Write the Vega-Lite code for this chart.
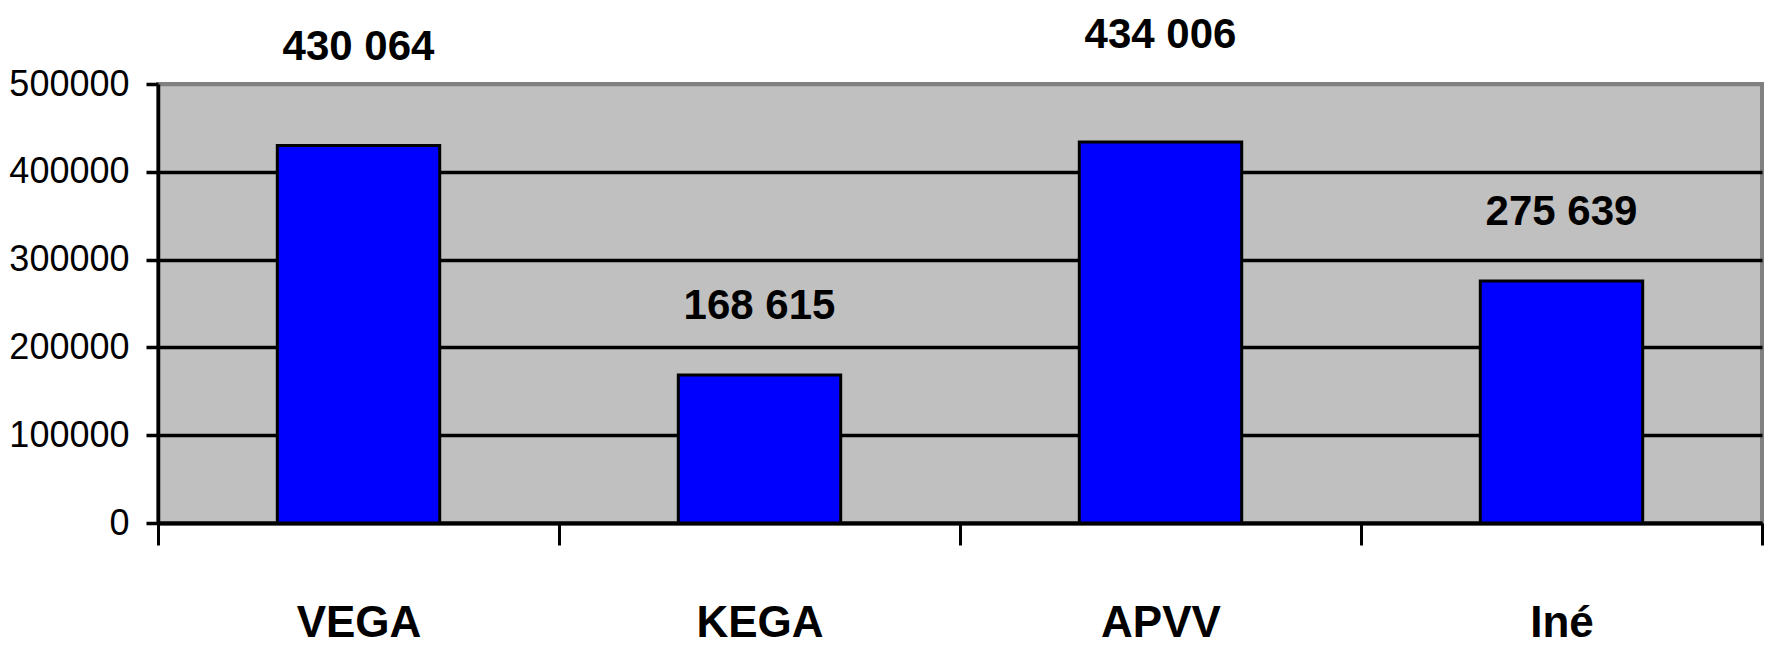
{
  "$schema": "https://vega.github.io/schema/vega-lite/v6.json",
  "autosize": "none",
  "width": 1604,
  "height": 439,
  "padding": {"left": 158, "top": 84, "right": 7, "bottom": 126},
  "background": "white",
  "config": {
    "locale": {"number": {"decimal": ",", "thousands": " ", "grouping": [3], "currency": ["", " €"]}},
    "view": {"fill": "#C0C0C0", "stroke": "#808080", "strokeWidth": 4},
    "font": "Liberation Sans"
  },
  "data": {
    "values": [
      {"category": "VEGA", "amount": 430064},
      {"category": "KEGA", "amount": 168615},
      {"category": "APVV", "amount": 434006},
      {"category": "Iné", "amount": 275639}
    ]
  },
  "encoding": {
    "x": {
      "field": "category",
      "type": "nominal",
      "sort": null,
      "scale": {"paddingInner": 0, "paddingOuter": 0},
      "axis": {
        "title": null,
        "labelAngle": 0,
        "labelFont": "Liberation Sans",
        "labelFontSize": 44,
        "labelFontWeight": "bold",
        "labelColor": "black",
        "labelBaseline": "alphabetic",
        "labelPadding": 91,
        "tickBand": "extent",
        "tickSize": 22,
        "tickWidth": 3,
        "tickColor": "black",
        "domainColor": "black",
        "domainWidth": 4,
        "grid": false
      }
    },
    "y": {
      "field": "amount",
      "type": "quantitative",
      "scale": {"domain": [0, 500000], "nice": false},
      "axis": {
        "title": null,
        "values": [0, 100000, 200000, 300000, 400000, 500000],
        "format": "d",
        "labelFont": "Liberation Sans",
        "labelFontSize": 36,
        "labelColor": "black",
        "labelPadding": 17,
        "tickSize": 12,
        "tickWidth": 3.5,
        "tickColor": "black",
        "domainColor": "black",
        "domainWidth": 3.5,
        "grid": true,
        "gridWidth": 3.5,
        "gridColor": {"condition": {"test": "datum.value >= 500000", "value": "#808080"}, "value": "black"},
        "gridOpacity": 1
      }
    }
  },
  "layer": [
    {
      "mark": {"type": "bar", "color": "#0000FF", "stroke": "black", "strokeWidth": 3, "width": {"band": 0.405}}
    },
    {
      "transform": [{"filter": "datum.category == 'KEGA' || datum.category == 'Iné'"}],
      "mark": {"type": "text", "baseline": "alphabetic", "dy": -56, "fontSize": 42, "fontWeight": "bold", "color": "black"},
      "encoding": {"text": {"field": "amount", "type": "quantitative", "format": ",d"}}
    },
    {
      "transform": [{"filter": "datum.category == 'VEGA'"}],
      "mark": {"type": "text", "baseline": "alphabetic", "dy": -85, "fontSize": 42, "fontWeight": "bold", "color": "black"},
      "encoding": {"text": {"field": "amount", "type": "quantitative", "format": ",d"}}
    },
    {
      "transform": [{"filter": "datum.category == 'APVV'"}],
      "mark": {"type": "text", "baseline": "alphabetic", "dy": -94, "fontSize": 42, "fontWeight": "bold", "color": "black"},
      "encoding": {"text": {"field": "amount", "type": "quantitative", "format": ",d"}}
    }
  ]
}
